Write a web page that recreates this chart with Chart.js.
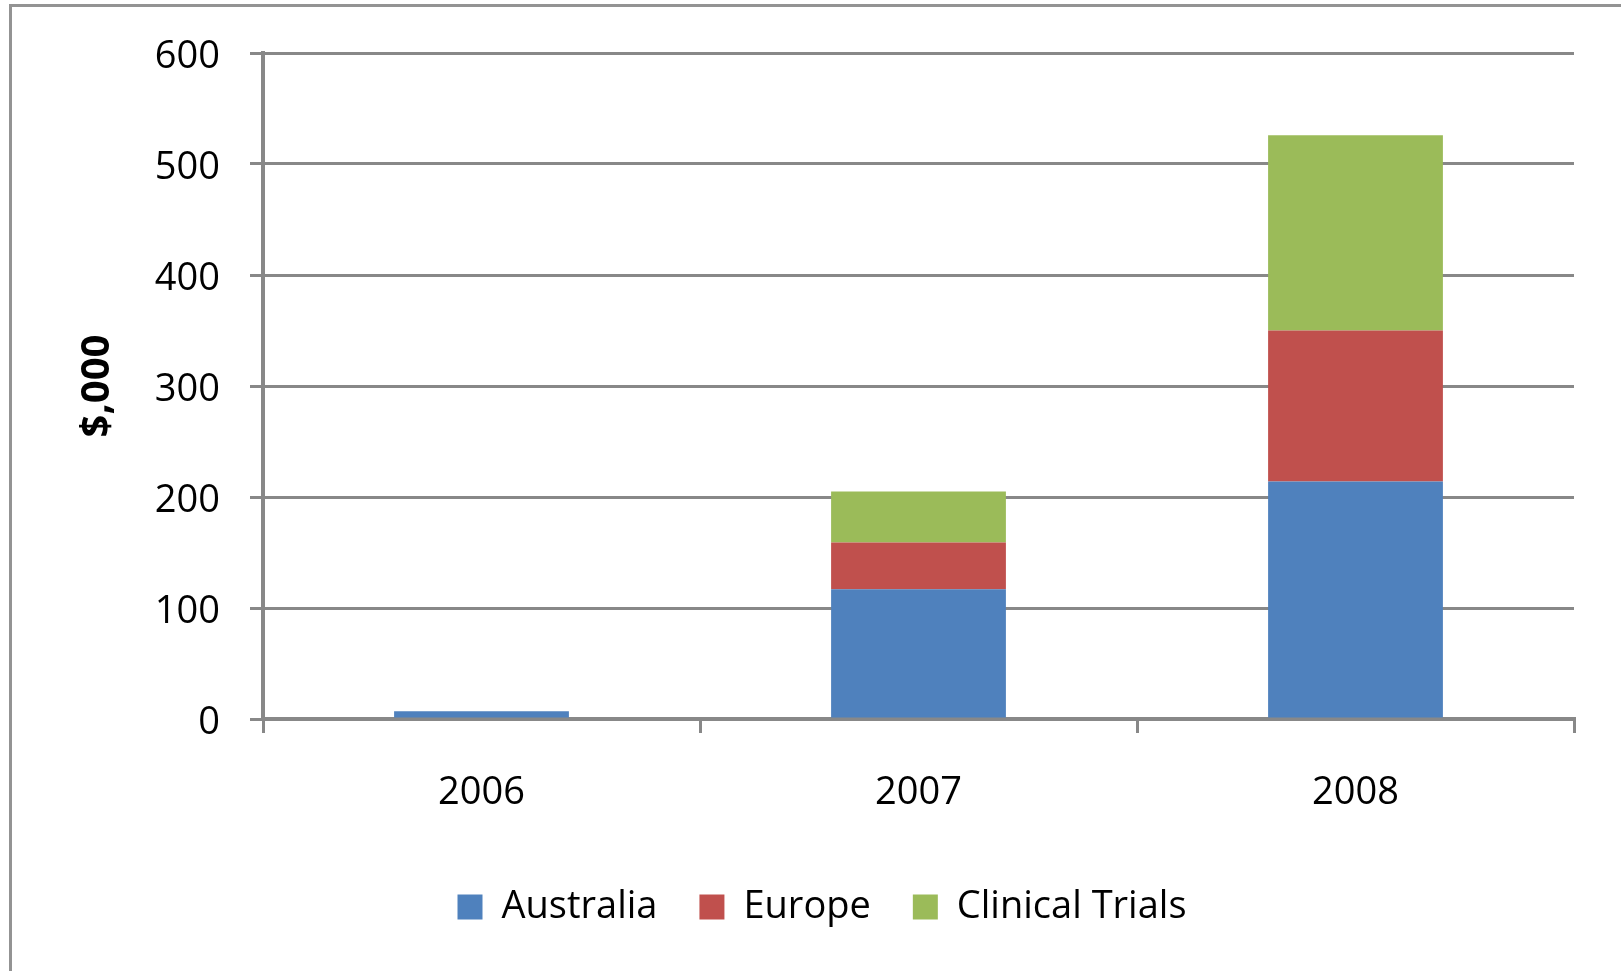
<!DOCTYPE html>
<html>
<head>
<meta charset="utf-8">
<script src="https://cdn.jsdelivr.net/npm/chart.js@4"></script>
<style>
    html, body { margin: 0; padding: 0; background: #ffffff; }
    #wrap { position: relative; width: 1621px; height: 971px; overflow: hidden; }
    #frame {
        position: absolute; left: 9px; top: 4px; right: -10px; bottom: -10px;
        border-left: 3px solid #939393; border-top: 3px solid #939393;
        pointer-events: none;
    }
    canvas { position: absolute; left: 0; top: 0; }
</style>
</head>
<body>
<div id="wrap">
    <canvas id="chart" width="1621" height="971"></canvas>
    <div id="frame"></div>
</div>
<script>
// Data
const years = ['2006', '2007', '2008'];
const australia = [7, 117, 214];
const europe = [0, 42, 136];
const clinicalTrials = [0, 46, 176];
const yTicks = [0, 100, 200, 300, 400, 500, 600];

const gridColor = '#888888';
const fontFamily = '"Open Sans", "Noto Sans", sans-serif';
const legendPadding = 42;

const ctx = document.getElementById('chart').getContext('2d');

// the legend in the original sits a bit right of the canvas centre
const shiftLegend = {
    id: 'shiftLegend',
    afterLayout(chart) {
        if (chart.legend) {
            chart.legend.left += 35;
            chart.legend.right += 35;
        }
    },
};

new Chart(ctx, {
    type: 'bar',
    data: {
        labels: years,
        datasets: [
            { label: 'Australia', data: australia, backgroundColor: '#4F81BD' },
            { label: 'Europe', data: europe, backgroundColor: '#C0504D' },
            { label: 'Clinical Trials', data: clinicalTrials, backgroundColor: '#9BBB59' },
        ],
    },
    plugins: [shiftLegend],
    options: {
        responsive: false,
        animation: false,
        devicePixelRatio: 1,
        categoryPercentage: 1.0,
        barPercentage: 0.4,
        layout: { padding: { left: 0, top: 53, right: 47, bottom: 35 } },
        scales: {
            x: {
                stacked: true,
                grid: {
                    offset: true,
                    drawOnChartArea: false,
                    drawTicks: true,
                    tickLength: 14,
                    color: gridColor,
                    lineWidth: 3,
                },
                border: { display: true, color: gridColor, width: 4 },
                ticks: {
                    color: '#000000',
                    padding: 37,
                    font: { family: fontFamily, size: 38 },
                },
                // keep the plot bottom at the same place whatever the legend needs
                afterFit: (scale) => { scale.height = 159 - (legendPadding - 10); },
            },
            y: {
                stacked: true,
                min: 0,
                max: 600,
                afterBuildTicks: (scale) => { scale.ticks = yTicks.map(v => ({ value: v })); },
                grid: {
                    color: gridColor,
                    lineWidth: 3,
                    drawTicks: true,
                    tickLength: 13,
                },
                border: { display: true, color: gridColor, width: 4 },
                ticks: {
                    color: '#000000',
                    padding: 30,
                    labelOffset: 4,
                    font: { family: fontFamily, size: 38 },
                },
                title: {
                    display: true,
                    text: '$,000',
                    color: '#000000',
                    padding: { top: 74, bottom: 0 },
                    font: { family: fontFamily, size: 40, weight: 'bold' },
                },
                afterFit: (scale) => { scale.width = 263; },
            },
        },
        plugins: {
            legend: {
                position: 'bottom',
                labels: {
                    color: '#000000',
                    boxWidth: 25,
                    boxHeight: 25,
                    padding: legendPadding,
                    font: { family: fontFamily, size: 38 },
                },
            },
            tooltip: { enabled: false },
        },
    },
});
</script>
</body>
</html>
